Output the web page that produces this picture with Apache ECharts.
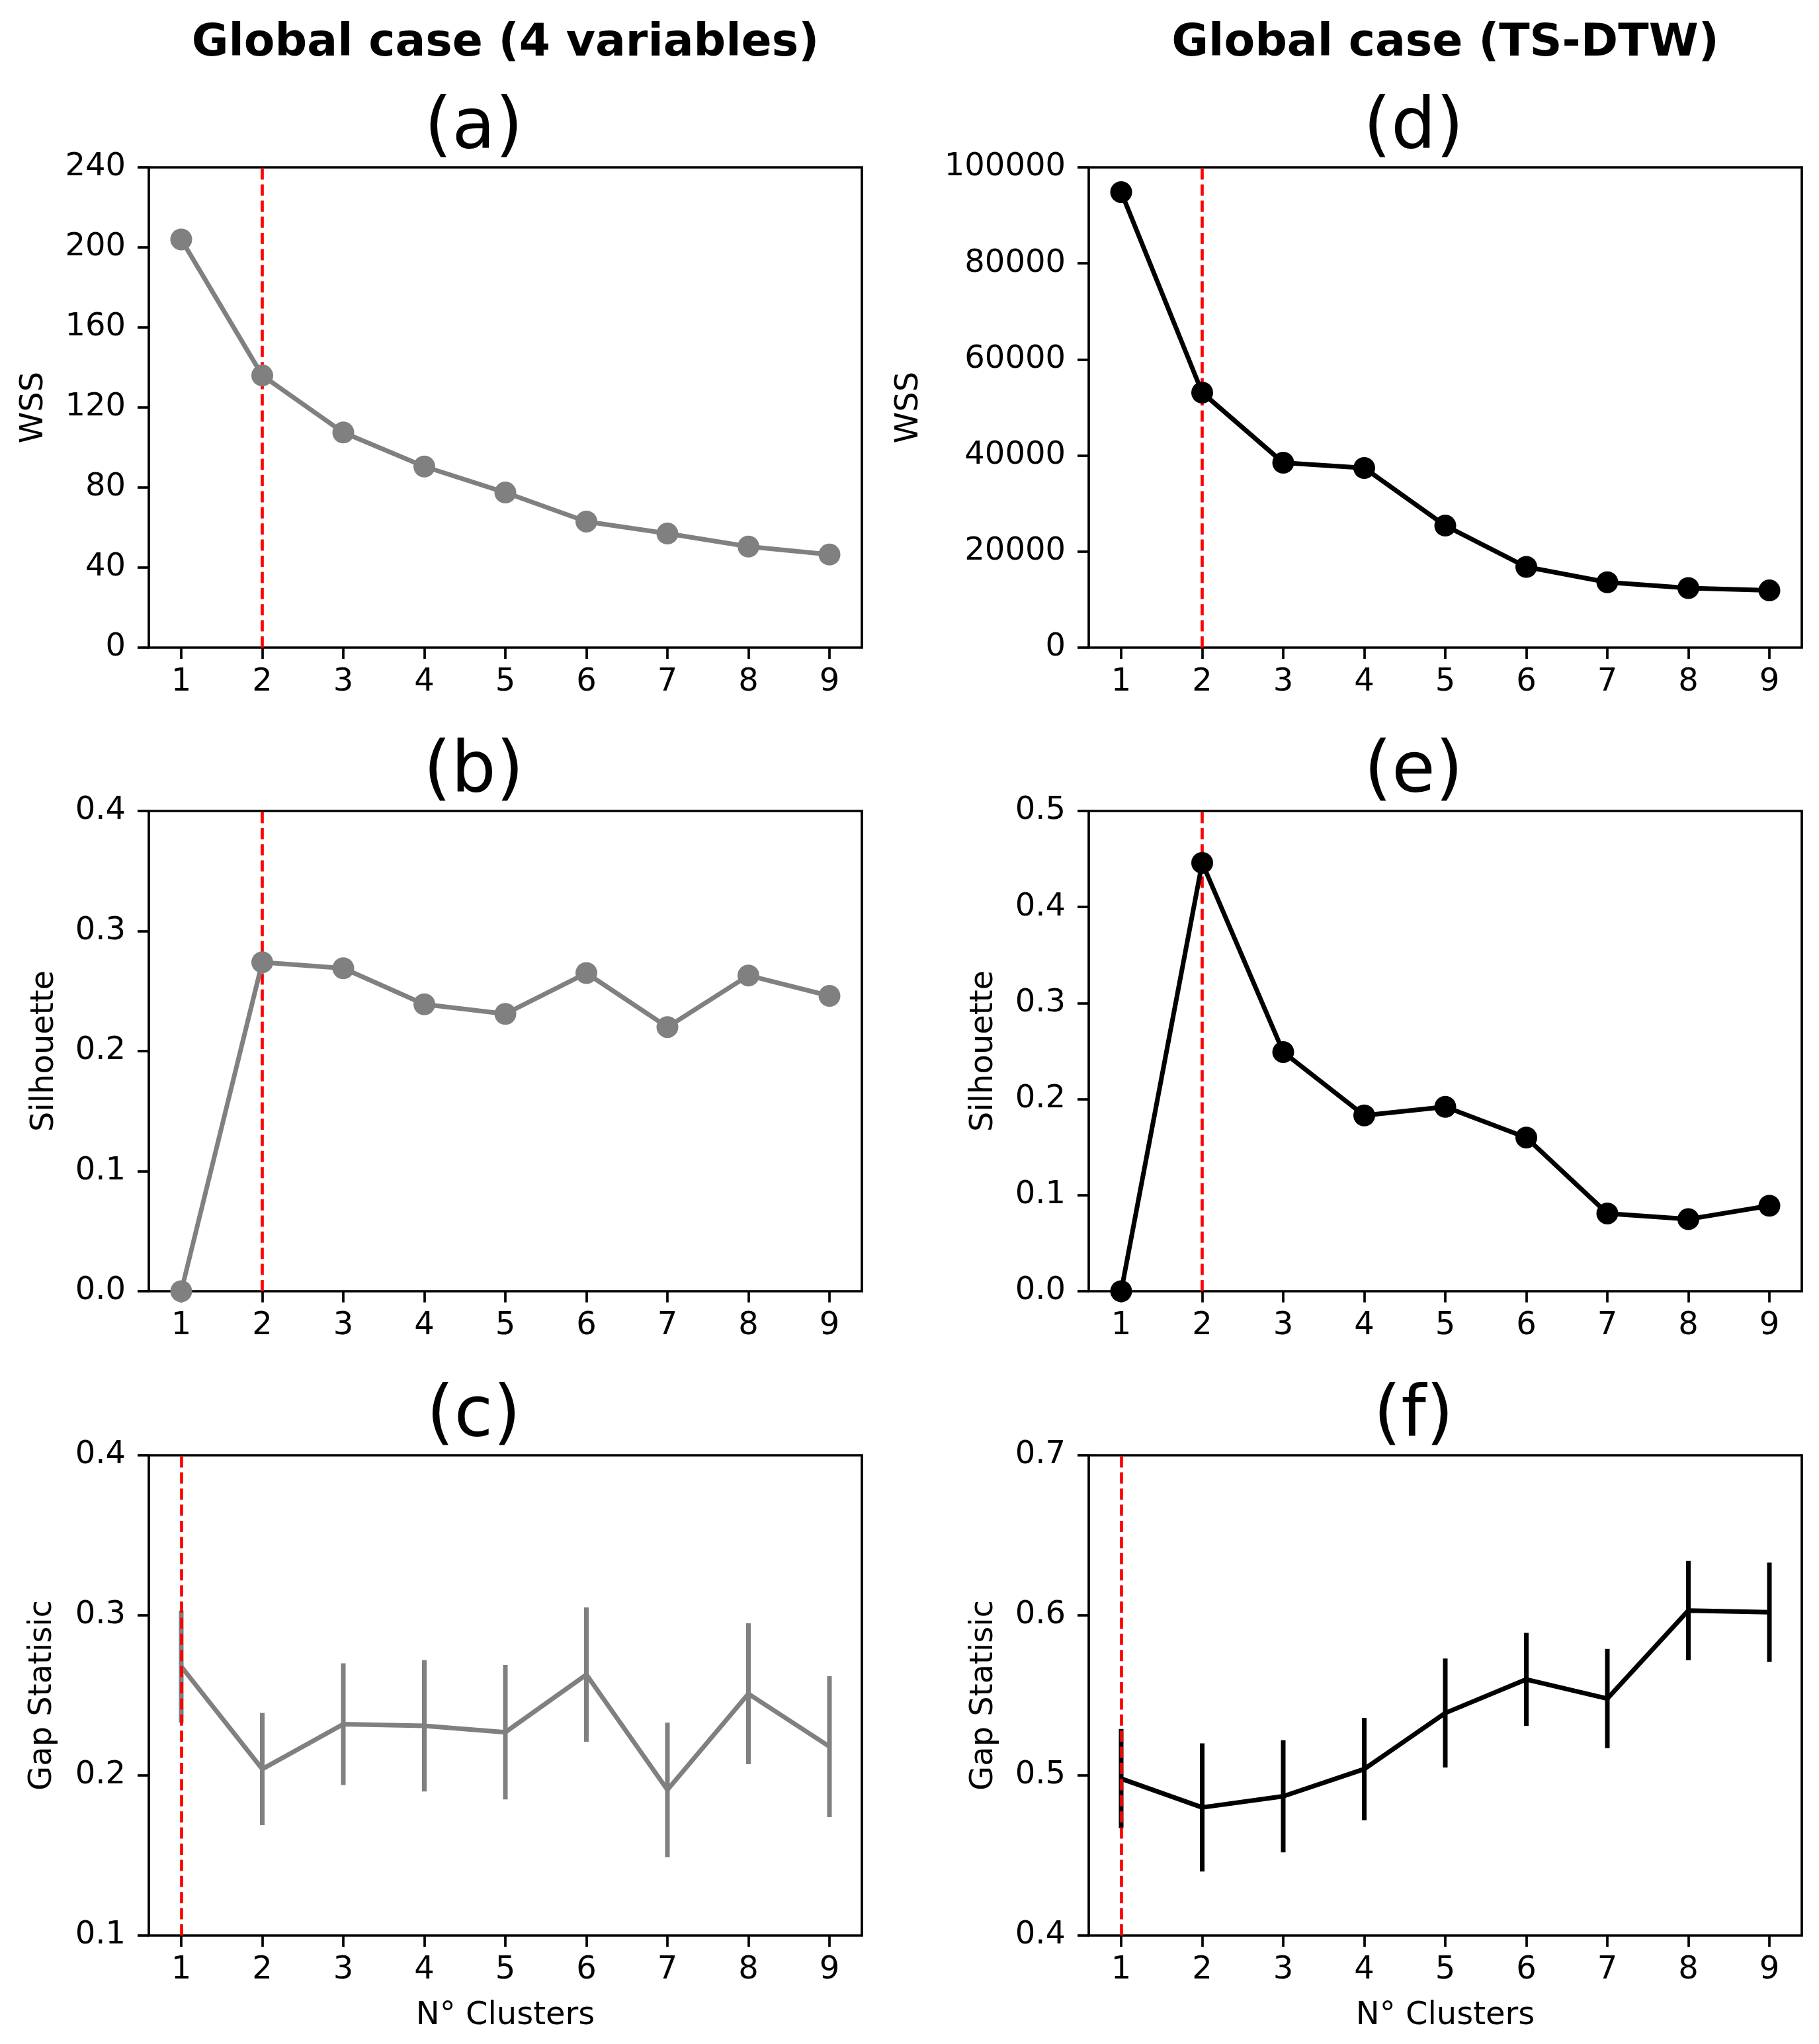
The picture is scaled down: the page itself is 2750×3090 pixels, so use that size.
<!DOCTYPE html>
<html><head><meta charset="utf-8">
<script src="https://cdn.jsdelivr.net/npm/echarts@6/dist/echarts.min.js"></script>
<style>html,body{margin:0;padding:0;background:#fff}#c{width:2750px;height:3090px}</style>
</head><body><div id="c"></div>
<script>
// ---------- data ----------
const clusters = [1, 2, 3, 4, 5, 6, 7, 8, 9];

// Left column: Global case (4 variables)
const wss4Var = [204, 136, 107.5, 90.5, 77.5, 63, 57, 50.5, 46.5];
const silhouette4Var = [0.0, 0.274, 0.269, 0.239, 0.231, 0.265, 0.220, 0.263, 0.246];
const gap4Var = [0.268, 0.204, 0.232, 0.231, 0.227, 0.263, 0.191, 0.251, 0.218];
const gapErr4Var = [0.035, 0.035, 0.038, 0.041, 0.042, 0.042, 0.042, 0.044, 0.044];

// Right column: Global case (TS-DTW)
const wssDTW = [94850, 53100, 38500, 37400, 25400, 16800, 13600, 12400, 11900];
const silhouetteDTW = [0.0, 0.446, 0.249, 0.183, 0.192, 0.160, 0.081, 0.075, 0.089];
const gapDTW = [0.498, 0.480, 0.487, 0.504, 0.539, 0.560, 0.548, 0.603, 0.602];
const gapErrDTW = [0.031, 0.040, 0.035, 0.032, 0.034, 0.029, 0.031, 0.031, 0.031];

// Chosen number of clusters (red dashed line), panels a..f
const optimalK = [2, 2, 1, 2, 2, 1];

// Texts
const columnTitles = ['Global case (4 variables)', 'Global case (TS-DTW)'];
const panelLetters = ['(a)', '(b)', '(c)', '(d)', '(e)', '(f)'];
const yNames = ['WSS', 'Silhouette', 'Gap Statisic'];
const xName = 'N° Clusters';

// Y axis ticks per panel (a..f)
const yMin = [0, 0, 0.1, 0, 0, 0.4];
const yMax = [240, 0.4, 0.4, 100000, 0.5, 0.7];
const yStep = [40, 0.1, 0.1, 20000, 0.1, 0.1];
const yDecimals = [0, 1, 1, 0, 1, 1];

// ---------- layout ----------
const FONT = '"DejaVu Sans", sans-serif';
const FS = 48;
const colLeft = [225, 1646];
const rowTop = [253, 1226, 2200];
const GW = 1078, GH = 726;
const nameGaps = [[149, 133.5, 136.5], [247.5, 134.5, 134.5]];
const colors = ['#808080', '#000000'];

const grids = [], xAxes = [], yAxes = [], series = [], graphics = [];

const panelData = [
  [wss4Var, silhouette4Var, [gap4Var, gapErr4Var]],
  [wssDTW, silhouetteDTW, [gapDTW, gapErrDTW]]
];

for (let c = 0; c < 2; c++) {
  graphics.push({
    type: 'text', x: colLeft[c] + GW / 2, y: 66,
    style: { text: columnTitles[c], font: 'bold 68px ' + FONT, fill: '#000', textAlign: 'center', textVerticalAlign: 'middle' }
  });
  for (let r = 0; r < 3; r++) {
    const p = c * 3 + r;
    grids.push({ left: colLeft[c], top: rowTop[r], width: GW, height: GH,
      show: true, borderColor: '#000', borderWidth: 3.7, backgroundColor: 'transparent', containLabel: false });
    xAxes.push({
      type: 'value', gridIndex: p, min: 0.6, max: 9.4,
      axisLine: { show: false },
      axisTick: { show: true, inside: false, length: 17, lineStyle: { color: '#000', width: 3.7 }, customValues: clusters },
      axisLabel: { show: true, margin: 29, fontSize: FS, fontFamily: FONT, color: '#000', customValues: clusters,
        formatter: v => String(Math.round(v)) },
      splitLine: { show: false },
      name: r === 2 ? xName : '', nameLocation: 'middle', nameGap: 98,
      nameTextStyle: { fontSize: FS, fontFamily: FONT, color: '#000' }
    });
    const dec = yDecimals[p];
    yAxes.push({
      type: 'value', gridIndex: p, min: yMin[p], max: yMax[p], interval: yStep[p],
      axisLine: { show: false },
      axisTick: { show: true, inside: false, length: 17, lineStyle: { color: '#000', width: 3.7 } },
      axisLabel: { show: true, margin: 35, fontSize: FS, fontFamily: FONT, color: '#000',
        formatter: v => v.toFixed(dec) },
      splitLine: { show: false },
      name: yNames[r], nameLocation: 'middle', nameRotate: 90, nameGap: nameGaps[c][r],
      nameTextStyle: { fontSize: FS, fontFamily: FONT, color: '#000' }
    });
    graphics.push({
      type: 'text', x: colLeft[c] + GW / 2 - 48, y: rowTop[r] - 58,
      style: { text: panelLetters[p], font: '107px ' + FONT, fill: '#000', textAlign: 'center', textVerticalAlign: 'middle' }
    });

    const col = colors[c];
    const redLine = (z) => ({
      silent: true, symbol: ['none', 'none'], z: z, animation: false,
      label: { show: false },
      lineStyle: { color: '#ff0000', width: 4.65, type: [17, 7.4], opacity: 1 },
      emphasis: { disabled: true },
      data: [{ xAxis: optimalK[p] }]
    });

    if (r < 2) {
      const vals = panelData[c][r];
      series.push({
        type: 'line', xAxisIndex: p, yAxisIndex: p, z: 2,
        data: clusters.map((k, i) => [k, vals[i]]),
        symbol: 'circle', symbolSize: 33, showSymbol: true,
        lineStyle: { color: col, width: 7 }, itemStyle: { color: col },
        clip: true, animation: false,
        markLine: redLine(1)
      });
    } else {
      const vals = panelData[c][2][0], errs = panelData[c][2][1];
      series.push({
        type: 'line', xAxisIndex: p, yAxisIndex: p, z: 2,
        data: clusters.map((k, i) => [k, vals[i]]),
        symbol: 'none', showSymbol: false,
        lineStyle: { color: col, width: 7 },
        clip: true, animation: false,
        markLine: redLine(5)
      });
      series.push({
        type: 'custom', xAxisIndex: p, yAxisIndex: p, z: 2,
        data: clusters.map((k, i) => [k, vals[i] - errs[i], vals[i] + errs[i]]),
        encode: { x: 0, y: [1, 2] },
        animation: false,
        renderItem: (params, api) => {
          const lo = api.coord([api.value(0), api.value(1)]);
          const hi = api.coord([api.value(0), api.value(2)]);
          return { type: 'line', shape: { x1: lo[0], y1: lo[1], x2: hi[0], y2: hi[1] },
            style: { stroke: col, lineWidth: 7 } };
        }
      });
    }
  }
}

const chart = echarts.init(document.getElementById('c'), null, { renderer: 'canvas', width: 2750, height: 3090 });
chart.setOption({
  backgroundColor: '#ffffff',
  animation: false,
  grid: grids, xAxis: xAxes, yAxis: yAxes, series: series,
  graphic: graphics
});
</script>
</body></html>
